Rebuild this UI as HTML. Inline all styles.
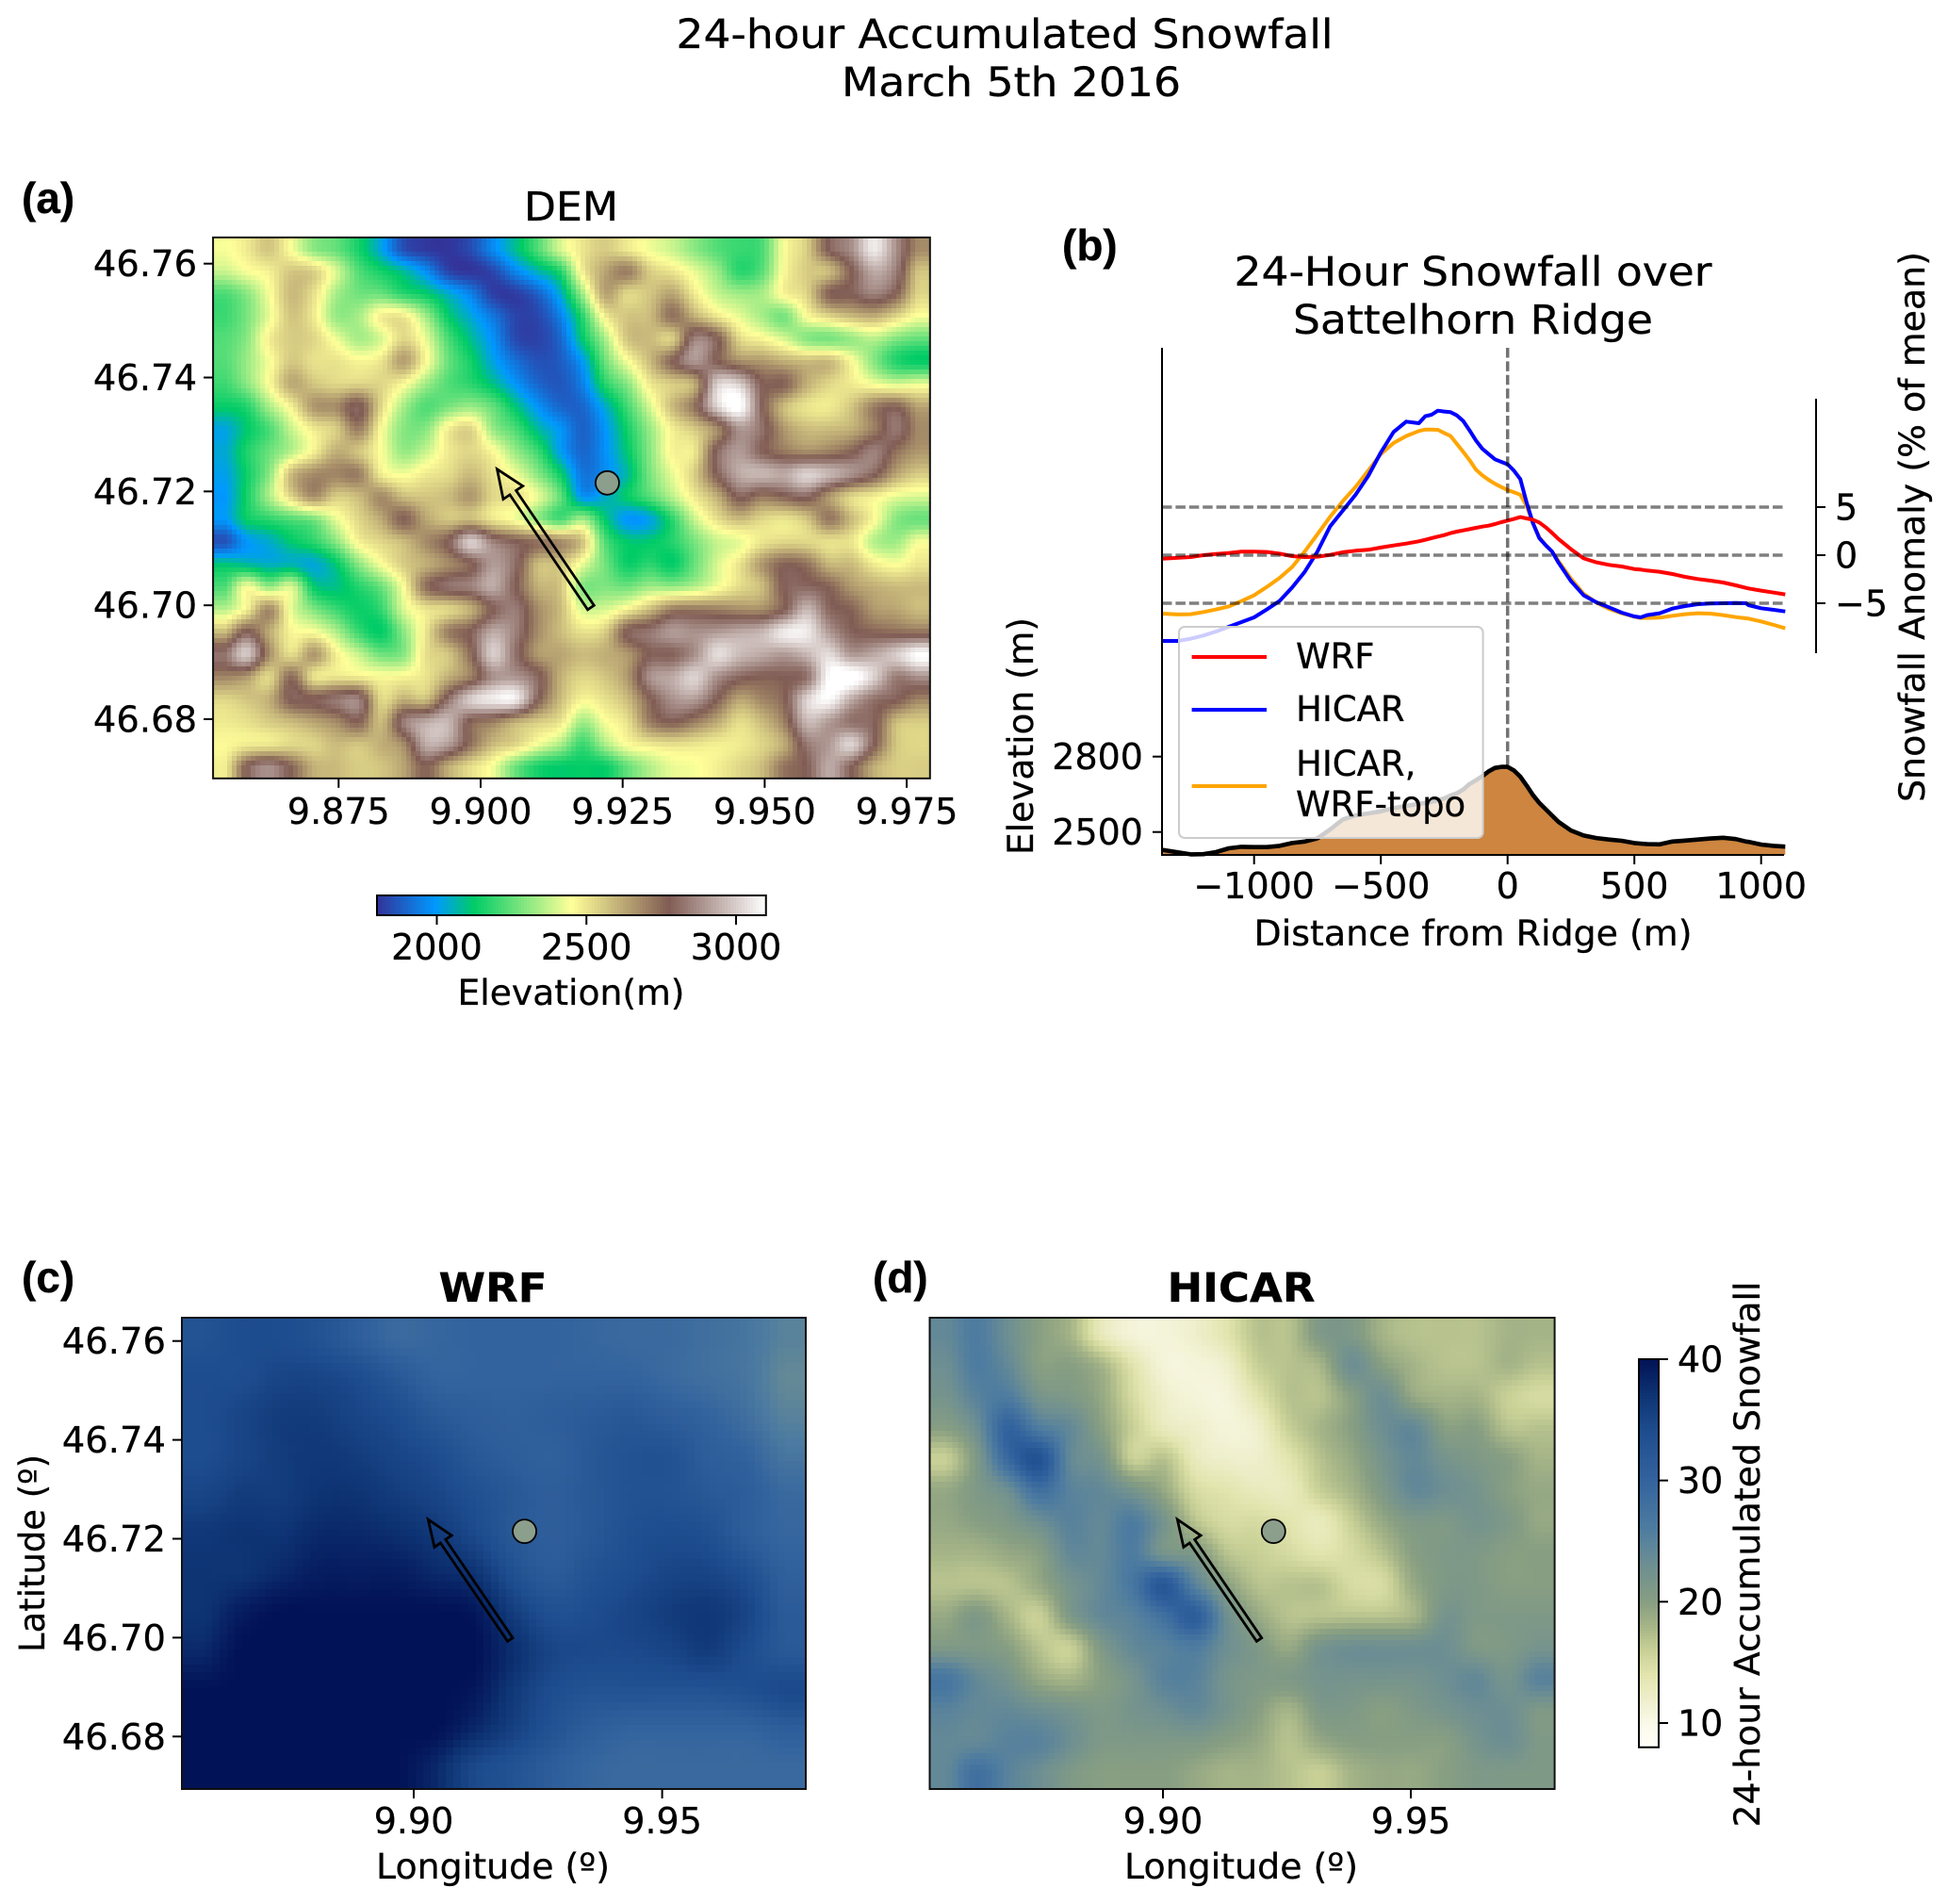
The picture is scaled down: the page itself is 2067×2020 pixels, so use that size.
<!DOCTYPE html>
<html lang="en">
<head>
<meta charset="utf-8">
<title>24-hour Accumulated Snowfall</title>
<style>
html,body{margin:0;padding:0;background:#fff;}
svg{display:block;}
text{font-family:"DejaVu Sans","Liberation Sans",sans-serif;fill:#000;stroke:#000;stroke-width:.3px;}
.panel{font-family:"Liberation Sans",sans-serif;font-weight:bold;font-size:46px;}
.bold{font-weight:bold;}
</style>
</head>
<body>
<svg id="fig" xmlns="http://www.w3.org/2000/svg" width="2067" height="2020" viewBox="0 0 2067 2020">
  <rect x="0" y="0" width="2067" height="2020" fill="#fff"/>
  <text x="1066" y="51" font-size="43" text-anchor="middle" textLength="697" lengthAdjust="spacingAndGlyphs">24-hour Accumulated Snowfall</text>
  <text x="1073" y="102" font-size="43" text-anchor="middle" textLength="360" lengthAdjust="spacingAndGlyphs">March 5th 2016</text>

  <text class="panel" x="23" y="226">(a)</text>
  <text x="606" y="234" font-size="43" text-anchor="middle" textLength="100" lengthAdjust="spacingAndGlyphs">DEM</text>
  <g id="demHeat"></g>
  <g id="demAxes"></g>
  <g id="demBar"></g>
  <text x="606" y="1066" font-size="37.5" text-anchor="middle" textLength="241" lengthAdjust="spacingAndGlyphs">Elevation(m)</text>

  <text class="panel" x="1127" y="276">(b)</text>
  <text x="1563" y="303" font-size="43" text-anchor="middle" textLength="507" lengthAdjust="spacingAndGlyphs">24-Hour Snowfall over</text>
  <text x="1563" y="354" font-size="43" text-anchor="middle" textLength="382" lengthAdjust="spacingAndGlyphs">Sattelhorn Ridge</text>
  <g id="ridge"></g>
  <g>
    <rect x="1251" y="665" width="322.6" height="224" rx="6" ry="6" fill="#fff" fill-opacity="0.8" stroke="#ccc" stroke-width="2"/>
    <line x1="1264.6" x2="1344" y1="697" y2="697" stroke="#ff0000" stroke-width="4"/>
    <text x="1375" y="709" font-size="37">WRF</text>
    <line x1="1264.6" x2="1344" y1="753" y2="753" stroke="#0000ff" stroke-width="4"/>
    <text x="1375" y="765" font-size="37">HICAR</text>
    <line x1="1264.6" x2="1344" y1="834" y2="834" stroke="#ffa500" stroke-width="4"/>
    <text x="1375" y="823" font-size="37">HICAR,</text>
    <text x="1375" y="866" font-size="37">WRF-topo</text>
  </g>
  <text x="1563" y="1003" font-size="37.5" text-anchor="middle" textLength="465" lengthAdjust="spacingAndGlyphs">Distance from Ridge (m)</text>
  <text transform="translate(1096,781) rotate(-90)" font-size="37.5" text-anchor="middle" textLength="252" lengthAdjust="spacingAndGlyphs">Elevation (m)</text>
  <text transform="translate(2042,559) rotate(-90)" font-size="37.5" text-anchor="middle" textLength="584" lengthAdjust="spacingAndGlyphs">Snowfall Anomaly (% of mean)</text>

  <text class="panel" x="23" y="1371">(c)</text>
  <text class="bold" x="523" y="1381" font-size="43" text-anchor="middle" textLength="115" lengthAdjust="spacingAndGlyphs">WRF</text>
  <g id="wrfHeat"></g>
  <g id="wrfAxes"></g>
  <text x="523" y="1993" font-size="37.5" text-anchor="middle" textLength="248" lengthAdjust="spacingAndGlyphs">Longitude (º)</text>
  <text transform="translate(47,1648) rotate(-90)" font-size="37.5" text-anchor="middle" textLength="210" lengthAdjust="spacingAndGlyphs">Latitude (º)</text>

  <text class="panel" x="926" y="1371">(d)</text>
  <text class="bold" x="1317" y="1381" font-size="43" text-anchor="middle" textLength="157" lengthAdjust="spacingAndGlyphs">HICAR</text>
  <g id="hicarHeat"></g>
  <g id="hicarAxes"></g>
  <text x="1317" y="1993" font-size="37.5" text-anchor="middle" textLength="248" lengthAdjust="spacingAndGlyphs">Longitude (º)</text>
  <g id="snowBar"></g>
  <text transform="translate(1867,1649) rotate(-90)" font-size="37.5" text-anchor="middle" textLength="579" lengthAdjust="spacingAndGlyphs">24-hour Accumulated Snowfall</text>
</svg>
<script>
// ---------- Panel (b) data ----------
const distances = [-1363,-1300,-1250,-1200,-1150,-1100,-1050,-1000,-950,-900,-850,-800,-750,-700,-650,-600,-550,-500,-450,-400,-350,-325,-300,-275,-250,-225,-200,-175,-150,-125,-100,-75,-50,-25,0,25,50,75,100,125,150,175,200,250,300,350,400,450,500,525,550,600,650,700,750,800,850,900,940,950,1000,1050,1095];
const wrfAnomaly = [-.36,-.26,-.2,0,.13,.23,.36,.36,.33,.16,-.1,-.2,-.16,.03,.3,.46,.56,.79,1.01,1.21,1.44,1.6,1.77,1.93,2.09,2.29,2.45,2.58,2.71,2.84,2.97,3.07,3.24,3.43,3.6,3.76,3.96,3.82,3.69,3.4,2.91,2.32,1.7,.62,-.33,-.75,-1.01,-1.18,-1.44,-1.5,-1.6,-1.73,-1.96,-2.25,-2.48,-2.65,-2.84,-3.14,-3.4,-3.46,-3.69,-3.89,-4.08];
const hicarAnomaly = [-8.92,-8.92,-8.69,-8.36,-7.94,-7.45,-6.96,-6.47,-5.65,-4.77,-3.37,-1.73,.39,3.0,4.64,6.27,8.24,10.69,12.81,13.89,13.73,14.45,14.61,15.03,14.94,14.87,14.54,13.96,12.97,11.93,11.08,10.52,9.97,9.71,9.45,8.79,7.91,5.46,3.33,1.77,1.05,.39,-.75,-2.71,-4.18,-4.9,-5.42,-5.98,-6.37,-6.47,-6.24,-6.04,-5.55,-5.29,-5.1,-5.03,-5,-4.97,-5,-5.2,-5.52,-5.69,-5.85];
const hicarTopoAnomaly = [-6.08,-6.17,-6.14,-5.91,-5.65,-5.33,-4.77,-4.18,-3.3,-2.38,-1.24,.39,2.19,3.99,5.62,7.09,8.79,10.52,11.67,12.39,12.91,13.07,13.07,13.04,12.71,12.39,11.57,10.75,9.87,8.89,8.3,7.84,7.42,7.09,6.77,6.54,6.28,5.13,3.33,1.86,1.05,.39,-.59,-2.45,-4.02,-4.93,-5.59,-6.04,-6.4,-6.53,-6.53,-6.5,-6.3,-6.14,-6.04,-6.08,-6.24,-6.44,-6.57,-6.6,-6.89,-7.25,-7.61];
const ridgeElevation = [2429,2419,2411,2412,2420,2435,2441,2440,2440,2445,2456,2462,2475,2510,2550,2566,2574,2582,2595,2604,2612,2616,2620,2626,2634,2645,2654,2669,2691,2706,2722,2741,2755,2759,2759,2745,2720,2685,2647,2616,2591,2566,2541,2506,2486,2476,2470,2465,2456,2454,2452,2451,2462,2466,2470,2474,2477,2472,2462,2461,2450,2445,2442];
const distanceTicks = [-1000,-500,0,500,1000];
const elevationTicks = [2800,2500];
const anomalyTicks = [5,0,-5];

// ---------- Map data ----------
const lonTicksDem = ["9.875","9.900","9.925","9.950","9.975"];
const lonTicksSnow = ["9.90","9.95"];
const latTicks = ["46.76","46.74","46.72","46.70","46.68"];
const demBarTicks = [2000,2500,3000];
const snowBarTicks = [40,30,20,10];
const stationLonLat = [9.9223,46.7215];
const arrowTailLonLat = [9.9194,46.6996];
const arrowTipLonLat = [9.9029,46.7239];

const demElevation = [
[2440,2490,2565,2440,2300,2250,2150,2020,1850,1810,1805,1850,1970,2090,2230,2400, 2500,2550,2490,2430,2380,2300,2230,2200,2220,2450,2550,2790,2880,3060,2880,2680],
[2380,2440,2480,2560,2540,2400,2230,2150,2080,1975,1835,1805,1840,1960,2060,2170, 2480,2630,2705,2550,2500,2420,2320,2180,2240,2460,2550,2585,2770,2930,2840,2565],
[2220,2300,2440,2585,2510,2340,2270,2260,2180,2130,2040,1950,1825,1820,1890,2040, 2330,2630,2530,2565,2630,2490,2380,2330,2340,2470,2535,2760,2780,2850,2760,2530],
[2200,2280,2420,2565,2490,2320,2340,2480,2490,2330,2130,2030,1930,1835,1840,1950, 2180,2480,2565,2585,2730,2610,2500,2420,2340,2280,2450,2530,2585,2610,2530,2440],
[2230,2300,2480,2550,2530,2430,2340,2400,2530,2420,2220,2090,1980,1845,1830,1900, 2120,2340,2565,2585,2550,2850,2780,2530,2470,2400,2300,2280,2320,2360,2290,2250],
[2230,2320,2440,2560,2510,2505,2470,2500,2640,2460,2260,2150,2020,1920,1860,1880, 2000,2260,2440,2585,2760,2890,2780,2680,2655,2610,2585,2585,2460,2300,2170,2130],
[2200,2300,2450,2620,2565,2530,2535,2530,2460,2330,2230,2180,2100,1990,1900,1870, 1950,2170,2300,2490,2550,2620,3000,3000,2780,2760,2610,2530,2490,2440,2400,2420],
[2130,2170,2340,2480,2655,2680,2790,2530,2340,2230,2280,2320,2250,2110,1985,1900, 1900,2040,2210,2400,2585,2730,3010,3110,2790,2585,2505,2490,2565,2705,2760,2630],
[2020,2120,2220,2380,2490,2550,2705,2460,2300,2300,2480,2530,2320,2220,2080,1990, 1890,1990,2150,2320,2480,2558,2680,2890,2820,2655,2585,2585,2610,2705,2830,2680],
[2030,2160,2260,2360,2480,2610,2565,2450,2320,2380,2490,2530,2460,2320,2200,2010, 1900,1980,2120,2300,2470,2500,2800,2900,2790,2718,2680,2705,2760,2850,2730,2655],
[2010,2140,2300,2585,2680,2692,2705,2490,2440,2490,2520,2585,2510,2430,2300,2140, 1930,1975,2080,2280,2420,2550,2780,2930,2955,2930,3010,2955,2880,2790,2630,2550],
[1990,2150,2340,2530,2668,2550,2585,2680,2585,2565,2585,2655,2530,2510,2420,2250, 1990,2040,2130,2230,2360,2490,2610,2790,2718,2760,2800,2655,2530,2480,2420,2400],
[1990,2130,2180,2230,2280,2420,2530,2620,2760,2630,2565,2585,2500,2440,2320,2220, 2330,2120,1990,2020,2180,2380,2510,2585,2530,2505,2565,2718,2585,2460,2300,2260],
[1860,1990,2040,2120,2180,2300,2470,2530,2585,2680,2780,3000,2850,2780,2730,2680, 2565,2230,2120,2120,2170,2280,2380,2420,2500,2530,2530,2510,2500,2360,2330,2440],
[2110,2080,2050,2060,2030,2120,2300,2440,2550,2610,2680,2760,2900,2810,2585,2565, 2420,2270,2140,2180,2130,2260,2400,2505,2655,2760,2730,2598,2585,2490,2450,2500],
[2220,2440,2320,2400,2130,2100,2170,2260,2450,2730,2820,2850,2930,2780,2610,2565, 2300,2290,2270,2330,2320,2360,2440,2520,2585,2780,2800,2760,2655,2610,2585,2585],
[2360,2480,2680,2420,2290,2200,2140,2190,2400,2500,2530,2610,2780,2840,2680,2585, 2400,2400,2480,2585,2705,2718,2705,2680,2680,2780,2955,2800,2760,2655,2630,2585],
[2585,2780,2620,2470,2450,2350,2200,2130,2300,2500,2705,2780,2930,2850,2680,2585, 2510,2550,2780,2830,2900,2880,2900,2930,2955,3060,3060,2900,2790,2760,2742,2730],
[2820,2990,2680,2520,2655,2480,2380,2270,2300,2510,2565,2742,3000,2820,2655,2630, 2585,2610,2655,2780,2790,2880,3030,2965,2930,2900,2955,3030,2900,2930,3000,3100],
[2692,2655,2530,2742,2510,2505,2490,2460,2470,2505,2610,2705,2880,2890,2800,2610, 2530,2565,2655,2880,2930,3010,2880,2800,2770,2780,2820,3100,3130,3010,2840,2880],
[2530,2565,2610,2780,2780,2830,2850,2530,2610,2585,2820,3000,3060,3060,2780,2585, 2470,2510,2585,2760,2880,2900,2770,2630,2692,2760,3010,3090,2930,2820,2780,2692],
[2490,2510,2550,2585,2630,2680,2760,2585,2840,2930,2955,2760,2705,2610,2550,2500, 2330,2440,2510,2705,2770,2705,2620,2520,2585,2705,2955,2900,2820,2790,2585,2550],
[2460,2490,2500,2530,2535,2585,2565,2610,2680,2930,2900,2730,2585,2530,2430,2340, 2200,2340,2450,2490,2510,2500,2480,2490,2535,2620,2830,2900,3010,2780,2565,2530],
[2480,2780,2880,2760,2610,2585,2550,2565,2630,2760,2610,2510,2430,2260,2150,2120, 2130,2130,2250,2350,2420,2440,2480,2530,2585,2730,2780,2930,2780,2610,2550,2550]
];

const wrfSnowfall = [
[33,34,34,33,31,29,29.5,30,30,30,29.5,29,29,28,27,25],
[34,34,35,35,34,32,30,30,30,30,30,30,29,28,27,24],
[34,35,36,36,35,34,32,31,30.5,31,31.5,32,31,30,28,25],
[34,35,36,36.5,36,35,34,32,31,30.5,32,33,33,31,30,27],
[35,36,36,37,37,36,35,33.5,32,31,32,33,33,32,31,29],
[36.5,37,37,38,38,37.5,36.5,34.5,32,31,32,33.5,34,33.5,31,29.5],
[37,37,38,39,39,39,38,37,33.5,31.5,33,34,35,35,33.5,30.5],
[37,39,40,40,40,40,40,39.5,36,33.5,34,35,36,36.5,35,31.5],
[38,40,40,40,40,40,40,40,37.5,35,34.5,34.5,35,36,34,32],
[40,40,40,40,40,40,40,39.5,36.5,34,33,33,33,33,33.5,34.5],
[40,40,40,40,40,40,40,38,35.5,33,31,30,30,30,30,31],
[40,40,40,40,40,40,38,34.5,33,31,29.5,29,29,29,29,29]
];

const hicarSnowfall = [
[24,26,23,20,18,13,11,11,12,14,17,17,21,21,18,17,17,17,18,18],
[23,26,24,20,20,18,14,11,11,12,16,17,18,23,20,18,17,17,18,17],
[22,25,26,22,21,19,15,12,11,11,14,17,17,20,23,19,18,18,16,15],
[20,23,30,26,24,20,16,13,12,11,12,16,18,20,23,24,20,20,17,17],
[16,21,29,33,24,22,16,17,13,12,12,14,17,19,22,24,22,21,20,18],
[19,21,23,28,25,24,22,19,15,14,13,13,16,18,21,24,23,22,20,19],
[19,20,21,23,25,24,26,22,17,15,15,14,13,16,19,21,21,22,21,19],
[18,18,19,20,24,24,26,22,21,17,16,15,14,15,17,20,21,21,20,20],
[17,17,17,19,22,24,27,32,25,20,17,17,17,15,15,19,21,21,20,20],
[19,21,18,16,21,24,25,28,31,23,19,17,17,17,17,18,22,21,21,21],
[21,21,20,17,16,21,24,25,26,23,21,19,22,23,23,23,23,21,21,22],
[27,24,22,19,18,20,22,25,25,22,21,21,22,22,22,22,23,24,22,25],
[25,24,24,23,22,21,22,23,24,22,20,18,21,21,20,21,22,23,23,21],
[24,24,25,25,23,21,21,21,21,20,19,17,19,20,20,20,20,22,23,21],
[24,28,25,23,21,20,20,20,19,18,18,17,16,18,19,19,20,21,21,21]
];

// ---------- Colormaps ----------
const terrainStopPos = [0,.15,.25,.5,.75,1];
const terrainStopRgb = [[51,51,153],[0,153,255],[0,204,102],[255,255,153],[128,92,84],[255,255,255]];
const snowStopVal = [8,10,14,16,18,20,23,26,30,34,37,40];
const snowStopRgb = [[255,255,250],[250,249,232],[226,229,174],[200,208,150],[165,180,135],[135,158,130],[110,143,146],[78,124,160],[51,99,158],[30,77,143],[14,52,116],[2,18,86]];

function rampColor(stops,rgbs,v){
  if(v<=stops[0]){const c=rgbs[0];return 'rgb('+c[0]+','+c[1]+','+c[2]+')';}
  for(let i=1;i<stops.length;i++){
    if(v<=stops[i]){
      const t=(v-stops[i-1])/(stops[i]-stops[i-1]),a=rgbs[i-1],b=rgbs[i];
      return 'rgb('+Math.round(a[0]+(b[0]-a[0])*t)+','+Math.round(a[1]+(b[1]-a[1])*t)+','+Math.round(a[2]+(b[2]-a[2])*t)+')';
    }
  }
  const c=rgbs[rgbs.length-1];return 'rgb('+c[0]+','+c[1]+','+c[2]+')';
}
const DEM_MIN=1800, DEM_MAX=3100, SNOW_MIN=8, SNOW_MAX=40;
function demColor(v){return rampColor(terrainStopPos,terrainStopRgb,(v-DEM_MIN)/(DEM_MAX-DEM_MIN));}
function snowColor(v){return rampColor(snowStopVal,snowStopRgb,v);}

// ---------- Helpers ----------
const NS='http://www.w3.org/2000/svg';
function make(tag,parent){const el=document.createElementNS(NS,tag);parent.appendChild(el);return el;}
function set(el,o){for(const k in o)el.setAttribute(k,o[k]);return el;}
function linear(d0,d1,r0,r1){const m=(r1-r0)/(d1-d0);const f=v=>r0+(v-d0)*m;f.inv=p=>d0+(p-r0)/m;return f;}

function cubic(p0,p1,p2,p3,t){
  return p1+.5*t*(p2-p0+t*(2*p0-5*p1+4*p2-p3+t*(3*(p1-p2)+p3-p0)));
}
function sampleGrid(grid,fc,fr){
  const R=grid.length,C=grid[0].length;
  const cx=Math.max(0,Math.min(C-1,fc-.5)),cy=Math.max(0,Math.min(R-1,fr-.5));
  const c1=Math.floor(cx),r1=Math.floor(cy),tx=cx-c1,ty=cy-r1;
  const col=k=>Math.max(0,Math.min(C-1,k)),row=k=>Math.max(0,Math.min(R-1,k));
  const vals=[];
  for(let dr=-1;dr<=2;dr++){
    const rr=grid[row(r1+dr)];
    vals.push(cubic(rr[col(c1-1)],rr[col(c1)],rr[col(c1+1)],rr[col(c1+2)],tx));
  }
  return cubic(vals[0],vals[1],vals[2],vals[3],ty);
}
function drawHeat(group,grid,xs,ys,lon0,lon1,lat0,lat1,stepPx,colorFn){
  const left=xs(lon0),right=xs(lon1),top=ys(lat1),bottom=ys(lat0);
  const frag=document.createDocumentFragment();
  for(let py=top;py<bottom;py+=stepPx){
    for(let px=left;px<right;px+=stepPx){
      const w=Math.min(stepPx,right-px),h=Math.min(stepPx,bottom-py);
      const lon=xs.inv(px+w/2),lat=ys.inv(py+h/2);
      const v=sampleGrid(grid,(lon-lon0)/(lon1-lon0)*grid[0].length,(lat1-lat)/(lat1-lat0)*grid.length);
      const r=document.createElementNS(NS,'rect');
      
      
      r.setAttribute('x',px.toFixed(2));
      r.setAttribute('y',py.toFixed(2));
      r.setAttribute('width',(w+.6).toFixed(2));
      r.setAttribute('height',(h+.6).toFixed(2));
      r.setAttribute('fill',colorFn(v));
      frag.appendChild(r);
    }
  }
  group.setAttribute('shape-rendering','crispEdges');
  group.appendChild(frag);
}
function frameAndTicks(g,xs,ys,lon0,lon1,lat0,lat1,xTicks,latLabels,xBase,arrow,dotR){
  const left=xs(lon0),right=xs(lon1),top=ys(lat1),bottom=ys(lat0);
  // arrow
  const tx=xs(arrowTailLonLat[0]),ty=ys(arrowTailLonLat[1]),hx=xs(arrowTipLonLat[0]),hy=ys(arrowTipLonLat[1]);
  const L=Math.hypot(hx-tx,hy-ty),ux=(hx-tx)/L,uy=(hy-ty)/L,nx=-uy,ny=ux;
  const sw=arrow.shaft/2,hw=arrow.head/2,hl=arrow.len;
  const bx=hx-ux*hl,by=hy-uy*hl;
  const pts=[[tx+nx*sw,ty+ny*sw],[bx+nx*sw,by+ny*sw],[bx+nx*hw,by+ny*hw],[hx,hy],[bx-nx*hw,by-ny*hw],[bx-nx*sw,by-ny*sw],[tx-nx*sw,ty-ny*sw]];
  const ar=make('polygon',g);
  
  
  set(ar,{points:pts.map(p=>p[0].toFixed(1)+','+p[1].toFixed(1)).join(' '),fill:'none',stroke:'#000','stroke-width':2.8,'stroke-linejoin':'miter'});
  // station
  const dot=make('circle',g);
  
  
  set(dot,{cx:xs(stationLonLat[0]),cy:ys(stationLonLat[1]),r:dotR,fill:'#8c9f8c',stroke:'#000','stroke-width':1.8});
  // frame
  const fr=make('rect',g);
  
  
  set(fr,{x:left,y:top,width:right-left,height:bottom-top,fill:'none',stroke:'#111','stroke-width':2});
  // x ticks
  xTicks.forEach(lbl=>{
    const x=xs(parseFloat(lbl));
    const t=make('line',g);
    
    
    set(t,{x1:x,x2:x,y1:bottom,y2:bottom+10,stroke:'#000','stroke-width':2});
    const s=make('text',g);
    
    
    set(s,{x:x,y:xBase,'font-size':38,'text-anchor':'middle'});
    s.textContent=lbl;
  });
  // y ticks
  if(latLabels){
    latLabels.forEach(lbl=>{
      const y=ys(parseFloat(lbl));
      const t=make('line',g);
      
      
      set(t,{x1:left-10,x2:left,y1:y,y2:y,stroke:'#000','stroke-width':2});
      const s=make('text',g);
      
      
      set(s,{x:left-17,y:y+13.5,'font-size':38.5,'text-anchor':'end'});
      s.textContent=lbl;
    });
  }
}

// ---------- Panel (a) ----------
const LON0=9.8529,LON1=9.9791,LAT0=46.6696,LAT1=46.7646;
const demX=linear(9.9,9.925,510,660.7), demY=linear(46.76,46.68,279.7,763);
drawHeat(document.getElementById('demHeat'),demElevation,demX,demY,LON0,LON1,LAT0,LAT1,5,demColor);
frameAndTicks(document.getElementById('demAxes'),demX,demY,LON0,LON1,LAT0,LAT1,lonTicksDem,latTicks,874,{shaft:8,head:25,len:30},12.5);

// Elevation colourbar
(function(){
  const g=document.getElementById('demBar');
  const x=linear(2000,3000,463.5,781),top=950,bottom=971;
  const left=x(DEM_MIN),right=x(DEM_MAX);
  for(let p=left;p<right;p+=3){
    const r=make('rect',g);
    
    
    set(r,{x:p,y:top,width:3.4,height:bottom-top,fill:demColor(x.inv(p+1.5)),'shape-rendering':'crispEdges'});
  }
  const f=make('rect',g);
  
  
  set(f,{x:left,y:top,width:right-left,height:bottom-top,fill:'none',stroke:'#000','stroke-width':2});
  demBarTicks.forEach(v=>{
    const t=make('line',g);
    
    
    set(t,{x1:x(v),x2:x(v),y1:bottom,y2:bottom+10,stroke:'#000','stroke-width':2});
    const s=make('text',g);
    
    
    set(s,{x:x(v),y:1018,'font-size':38,'text-anchor':'middle'});
    s.textContent=String(v);
  });
})();

// ---------- Panel (b) ----------
(function(){
  const g=document.getElementById('ridge');
  const xD=linear(0,500,1599.7,1734.2);
  const yE=linear(2500,2800,882.7,802.7);
  const yA=linear(0,5,589,538);
  const leftX=1233,rightX=1893,bottomY=907,topY=369;

  let top=distances.map((d,i)=>xD(d).toFixed(1)+','+yE(ridgeElevation[i]).toFixed(1));
  const fill=make('polygon',g);
  
  
  set(fill,{points:top.join(' ')+' '+xD(distances[distances.length-1]).toFixed(1)+','+bottomY+' '+xD(distances[0]).toFixed(1)+','+bottomY,fill:'#cd853f'});
  const elev=make('polyline',g);
  
  
  set(elev,{points:top.join(' '),fill:'none',stroke:'#000','stroke-width':4.6,'stroke-linejoin':'round'});

  function series(vals,color){
    return set(make('polyline',g),{points:distances.map((d,i)=>xD(d).toFixed(1)+','+yA(vals[i]).toFixed(1)).join(' '),fill:'none',stroke:color,'stroke-width':4,'stroke-linejoin':'round'});
  }
  const s1=series(hicarTopoAnomaly,'#ffa500');
  
  
  const s2=series(hicarAnomaly,'#0000ff');
  
  
  const s3=series(wrfAnomaly,'#ff0000');
  
  

  anomalyTicks.forEach(v=>{
    const l=make('line',g);
    
    
    set(l,{x1:leftX,x2:rightX,y1:yA(v),y2:yA(v),stroke:'#000','stroke-opacity':.5,'stroke-width':3.5,'stroke-dasharray':'10.5 3.9'});
  });
  const ridgeTop=yE(ridgeElevation[distances.indexOf(0)]);
  const vl=make('line',g);
  
  
  set(vl,{x1:xD(0),x2:xD(0),y1:topY,y2:ridgeTop,stroke:'#000','stroke-opacity':.55,'stroke-width':3.5,'stroke-dasharray':'10.5 3.9'});

  const sp1=make('line',g);
  
  
  set(sp1,{x1:leftX,x2:leftX,y1:topY,y2:bottomY+1,stroke:'#000','stroke-width':2});
  const sp2=make('line',g);
  
  
  set(sp2,{x1:leftX,x2:rightX,y1:bottomY,y2:bottomY,stroke:'#000','stroke-width':2});
  const sp3=make('line',g);
  
  
  set(sp3,{x1:1927,x2:1927,y1:423,y2:693,stroke:'#000','stroke-width':2});

  distanceTicks.forEach(v=>{
    const t=make('line',g);
    
    
    set(t,{x1:xD(v),x2:xD(v),y1:bottomY,y2:bottomY+10,stroke:'#000','stroke-width':2});
    const s=make('text',g);
    
    
    set(s,{x:xD(v),y:953,'font-size':38,'text-anchor':'middle'});
    s.textContent=String(v).replace('-','\u2212');
  });
  elevationTicks.forEach(v=>{
    const t=make('line',g);
    
    
    set(t,{x1:leftX-10,x2:leftX,y1:yE(v),y2:yE(v),stroke:'#000','stroke-width':2});
    const s=make('text',g);
    
    
    set(s,{x:leftX-20,y:yE(v)+13.5,'font-size':38,'text-anchor':'end'});
    s.textContent=String(v);
  });
  anomalyTicks.forEach(v=>{
    const t=make('line',g);
    
    
    set(t,{x1:1927,x2:1937,y1:yA(v),y2:yA(v),stroke:'#000','stroke-width':2});
    const s=make('text',g);
    
    
    set(s,{x:1947,y:yA(v)+13.5,'font-size':38});
    s.textContent=String(v).replace('-','\u2212');
  });
})();

// ---------- Panels (c) and (d) ----------
const snowY=linear(46.76,46.68,1422.7,1842.3);
const wrfX=linear(9.9,9.95,439,702.6);
const hicarX=linear(9.9,9.95,1234,1497);
const SNOW_LAT0=snowY.inv(1898),SNOW_LAT1=snowY.inv(1398);
const wrfLon0=wrfX.inv(193),wrfLon1=wrfX.inv(855);
const hicarLon0=hicarX.inv(986.5),hicarLon1=hicarX.inv(1649.6);
drawHeat(document.getElementById('wrfHeat'),wrfSnowfall,wrfX,snowY,wrfLon0,wrfLon1,SNOW_LAT0,SNOW_LAT1,8,snowColor);
frameAndTicks(document.getElementById('wrfAxes'),wrfX,snowY,wrfLon0,wrfLon1,SNOW_LAT0,SNOW_LAT1,lonTicksSnow,latTicks,1945,{shaft:6.5,head:22,len:28},12.5);
drawHeat(document.getElementById('hicarHeat'),hicarSnowfall,hicarX,snowY,hicarLon0,hicarLon1,SNOW_LAT0,SNOW_LAT1,6,snowColor);
frameAndTicks(document.getElementById('hicarAxes'),hicarX,snowY,hicarLon0,hicarLon1,SNOW_LAT0,SNOW_LAT1,lonTicksSnow,null,1945,{shaft:6.5,head:22,len:28},12.5);

// Snowfall colourbar
(function(){
  const g=document.getElementById('snowBar');
  const y=linear(40,10,1442,1828),left=1739,right=1760;
  const top=y(SNOW_MAX),bottom=y(SNOW_MIN);
  for(let p=top;p<bottom;p+=3){
    const r=make('rect',g);
    
    
    set(r,{x:left,y:p,width:right-left,height:3.4,fill:snowColor(y.inv(p+1.5)),'shape-rendering':'crispEdges'});
  }
  const f=make('rect',g);
  
  
  set(f,{x:left,y:top,width:right-left,height:bottom-top,fill:'none',stroke:'#000','stroke-width':2});
  snowBarTicks.forEach(v=>{
    const t=make('line',g);
    
    
    set(t,{x1:right,x2:right+10,y1:y(v),y2:y(v),stroke:'#000','stroke-width':2});
    const s=make('text',g);
    
    
    set(s,{x:1780,y:y(v)+13.5,'font-size':38});
    s.textContent=String(v);
  });
})();
</script>
</body>
</html>
